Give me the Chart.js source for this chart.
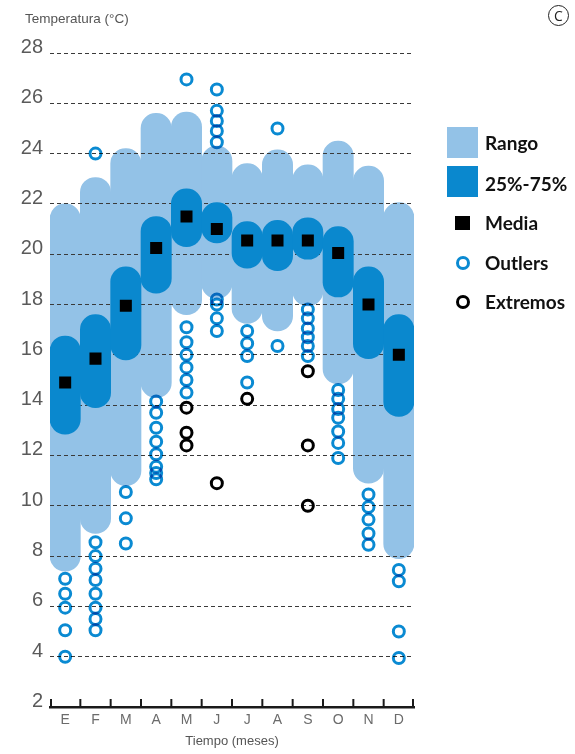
<!DOCTYPE html>
<html>
<head>
<meta charset="utf-8">
<script src="https://cdn.jsdelivr.net/npm/chart.js@4.4.1/dist/chart.umd.min.js"></script>
<style>
  html, body { margin: 0; padding: 0; background: #fff; }
  #wrap { position: relative; width: 575px; height: 754px; overflow: hidden; }
  canvas { position: absolute; left: 0; top: 0; }
  .ytitle { position: absolute; left: 25px; top: 11px; font: 13.5px 'Liberation Sans Narrow', 'Liberation Sans', sans-serif; color: #555; white-space: nowrap; }
  .lg { position: absolute; }
  .lgt { position: absolute; left: 485px; font: bold 19px Lato, 'Open Sans', sans-serif; color: #111; line-height: 19px; white-space: nowrap; }
  .badge { position: absolute; left: 548px; top: 5px; width: 21px; height: 21px; box-sizing: border-box; border: 1px solid #222; border-radius: 50%; font: 14px 'Open Sans', sans-serif; color: #222; text-align: center; line-height: 19px; }
</style>
</head>
<body>
<div id="wrap">
  <canvas id="c" width="575" height="754"></canvas>
  <div class="ytitle">Temperatura (°C)</div>
  <div class="badge">C</div>
  <div class="lg" style="left:447px;top:127px;width:31px;height:31px;background:#93c2e7"></div>
  <div class="lgt" style="top:133px">Rango</div>
  <div class="lg" style="left:447px;top:166px;width:31px;height:31px;background:#0a88ce"></div>
  <div class="lgt" style="top:174px">25%-75%</div>
  <div class="lg" style="left:455px;top:216px;width:15px;height:14px;background:#000"></div>
  <div class="lgt" style="top:213px">Media</div>
  <div class="lg" style="left:456px;top:256px;width:14px;height:14px;box-sizing:border-box;border:3px solid #0a8ad2;border-radius:50%"></div>
  <div class="lgt" style="top:253px">Outlers</div>
  <div class="lg" style="left:456px;top:295px;width:14px;height:14px;box-sizing:border-box;border:3px solid #000;border-radius:50%"></div>
  <div class="lgt" style="top:292px">Extremos</div>
</div>
<script>
// ---- data ----
const categories = ['Ene','Feb','Mar','Abr','May','Jun','Jul','Ago','Sep','Oct','Nov','Dic'];
const monthTicks = ['E','F','M','A','M','J','J','A','S','O','N','D'];
const yTickValues = [2,4,6,8,10,12,14,16,18,20,22,24,26,28];

const rangeMin = [7.4, 8.9, 10.8, 14.3, 17.6, 18.25, 17.25, 16.95, 17.95, 14.85, 10.9, 7.9];
const rangeMax = [22.0, 23.05, 24.2, 25.6, 25.65, 24.3, 23.6, 24.15, 23.55, 24.5, 23.5, 22.05];
const q1 = [12.85, 13.9, 15.8, 18.45, 20.3, 20.45, 19.45, 19.35, 19.8, 18.3, 15.85, 13.55];
const q3 = [16.75, 17.6, 19.5, 21.5, 22.6, 22.05, 21.3, 21.35, 21.45, 21.1, 19.5, 17.6];
const means = [14.9, 15.85, 17.95, 20.25, 21.5, 21.0, 20.55, 20.55, 20.55, 20.05, 18.0, 16.0];

const outliers = [
  [7.1, 6.5, 5.95, 5.05, 4.0],
  [24.0, 8.55, 8.0, 7.5, 7.05, 6.5, 5.95, 5.5, 5.05],
  [10.55, 9.5, 8.5],
  [14.15, 13.7, 13.1, 12.55, 12.05, 11.55, 11.3, 11.05],
  [26.95, 17.1, 16.5, 16.0, 15.5, 15.0, 14.5],
  [26.55, 25.7, 25.3, 24.9, 24.45, 18.2, 18.0, 17.45, 16.95],
  [16.95, 16.45, 15.95, 14.9],
  [25.0, 16.35],
  [17.8, 17.45, 17.05, 16.7, 16.35, 15.95],
  [14.6, 14.25, 13.85, 13.5, 12.95, 12.5, 11.9],
  [10.45, 9.95, 9.45, 8.9, 8.45],
  [7.45, 7.0, 5.0, 3.95]
];
const extremes = [
  [], [], [], [],
  [13.9, 12.9, 12.4],
  [10.9],
  [14.25],
  [],
  [15.35, 12.4, 10.0],
  [], [], []
];

// ---- build ----
const toPoints = (lists) => lists.flatMap((vals, i) => vals.map(v => ({ x: categories[i], y: v })));

const narrow = "'Liberation Sans Narrow', 'Liberation Sans', sans-serif";

const layerPlugin = {
  id: 'layers',
  beforeDatasetDraw(chart, args) {
    if (chart.data.datasets[args.index].multiply) {
      chart.ctx.save();
      chart.ctx.globalCompositeOperation = 'multiply';
    }
  },
  afterDatasetDraw(chart, args) {
    if (chart.data.datasets[args.index].multiply) chart.ctx.restore();
    if (args.index === 0) chart.scales.y.drawGrid(chart.chartArea);
  },
  afterDraw(chart) {
    const x = chart.scales.x, ctx = chart.ctx;
    const bottom = chart.chartArea.bottom;
    ctx.save();
    ctx.strokeStyle = '#1a1a1a';
    ctx.lineWidth = 2;
    for (let i = 0; i <= categories.length; i++) {
      const px = i === 0 ? x.left + 1 : (i === categories.length ? x.right - 1 : (x.getPixelForValue(i - 1) + x.getPixelForValue(i)) / 2);
      ctx.beginPath();
      ctx.moveTo(px, bottom);
      ctx.lineTo(px, bottom - 8);
      ctx.stroke();
    }
    ctx.restore();
  }
};

new Chart(document.getElementById('c'), {
  type: 'bar',
  data: {
    labels: categories,
    datasets: [
      {
        label: 'Rango',
        data: rangeMin.map((v, i) => [v, rangeMax[i]]),
        backgroundColor: '#93c2e7',
        borderWidth: 0,
        borderRadius: 100,
        borderSkipped: false,
        grouped: false,
        barPercentage: 1,
        categoryPercentage: 1,
        order: 5
      },
      {
        label: '25%-75%',
        data: q1.map((v, i) => [v, q3[i]]),
        backgroundColor: '#0a88ce',
        borderWidth: 0,
        borderRadius: 100,
        borderSkipped: false,
        grouped: false,
        barPercentage: 1,
        categoryPercentage: 1,
        order: 4
      },
      {
        type: 'line',
        label: 'Outlers',
        data: toPoints(outliers),
        showLine: false,
        pointStyle: 'circle',
        pointRadius: 5.5,
        pointBorderWidth: 3,
        pointBorderColor: '#0a8ad2',
        pointBackgroundColor: 'rgba(0,0,0,0)',
        multiply: true,
        order: 3
      },
      {
        type: 'line',
        label: 'Extremos',
        data: toPoints(extremes),
        showLine: false,
        pointStyle: 'circle',
        pointRadius: 5.5,
        pointBorderWidth: 3,
        pointBorderColor: '#000',
        pointBackgroundColor: 'rgba(0,0,0,0)',
        order: 2
      },
      {
        type: 'line',
        label: 'Media',
        data: means.map((v, i) => ({ x: categories[i], y: v })),
        showLine: false,
        pointStyle: 'rect',
        pointRadius: 8.5,
        pointBorderWidth: 0,
        pointBackgroundColor: '#000',
        order: 1
      }
    ]
  },
  options: {
    responsive: false,
    devicePixelRatio: 1,
    animation: false,
    events: [],
    layout: { padding: { left: 0, right: 161, top: 53, bottom: 0 } },
    plugins: { legend: { display: false }, tooltip: { enabled: false } },
    scales: {
      x: {
        offset: true,
        grid: { display: false, drawTicks: false },
        border: { display: true, color: '#1a1a1a', width: 2.5 },
        ticks: {
          color: '#6b6b6b',
          font: { family: narrow, size: 14 },
          padding: 5,
          callback: (v, i) => monthTicks[i]
        },
        title: {
          display: true,
          text: 'Tiempo (meses)',
          color: '#555',
          font: { family: narrow, size: 13 },
          padding: { top: 0, bottom: 5 }
        },
        afterFit: (s) => { s.height = 47; }
      },
      y: {
        min: 2,
        max: 28,
        afterBuildTicks: (s) => { s.ticks = yTickValues.map(v => ({ value: v })); },
        grid: {
          drawTicks: false,
          lineWidth: 1,
          color: (ctx) => (ctx.tick && ctx.tick.value === 2) ? 'rgba(0,0,0,0)' : '#3a3a3a'
        },
        border: { display: false, dash: [4, 3] },
        ticks: {
          color: '#5a5a5a',
          font: { family: narrow, size: 20 },
          padding: 7,
          labelOffset: -5.5
        },
        afterFit: (s) => { s.width = 50; }
      }
    }
  },
  plugins: [layerPlugin]
});
</script>
</body>
</html>
